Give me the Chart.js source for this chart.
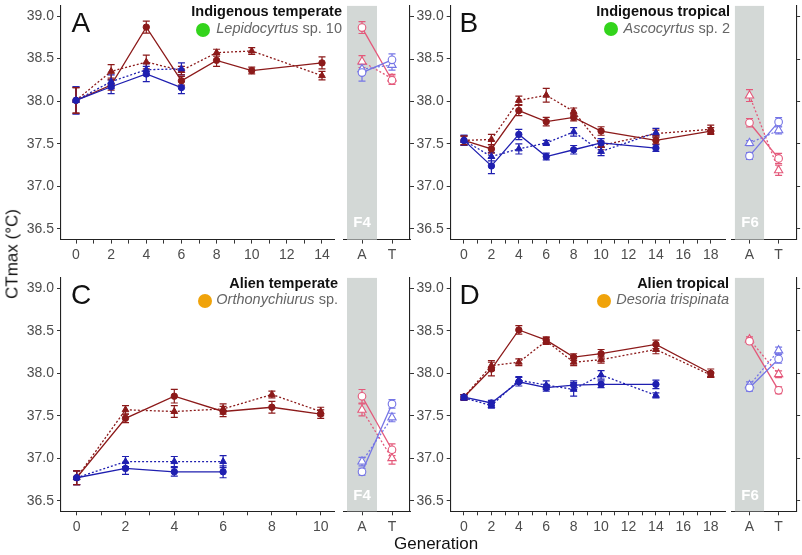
<!DOCTYPE html>
<html>
<head>
<meta charset="utf-8">
<script src="https://cdn.jsdelivr.net/npm/chart.js@4.4.0/dist/chart.umd.min.js"></script>
<style>
body{margin:0;background:#fff;}
#wrap{position:relative;width:802px;height:555px;overflow:hidden;font-family:"Liberation Sans",Arial,Helvetica,sans-serif;}
canvas{position:absolute;}
.t{position:absolute;white-space:nowrap;line-height:1;}
.big{font-size:28px;color:#111;}
.ttl{font-size:14.5px;font-weight:bold;color:#111;text-align:right;}
.sp{font-size:14.5px;color:#666;text-align:right;}
.dot{position:absolute;width:14px;height:14px;border-radius:50%;}
.band{font-size:15px;font-weight:bold;color:#fff;text-align:center;width:30px;}
</style>
</head>
<body>
<div id="wrap">
<canvas id="mainA"></canvas><canvas id="sideA"></canvas>
<canvas id="mainB"></canvas><canvas id="sideB"></canvas>
<canvas id="mainC"></canvas><canvas id="sideC"></canvas>
<canvas id="mainD"></canvas><canvas id="sideD"></canvas>

<div class="t big" style="left:71.5px;top:8.6px">A</div>
<div class="t big" style="left:459.5px;top:8.6px">B</div>
<div class="t big" style="left:71px;top:280.8px">C</div>
<div class="t big" style="left:459.5px;top:280.8px">D</div>

<div class="t ttl" style="right:460px;top:3.7px">Indigenous temperate</div>
<div class="t sp" style="right:460px;top:20.7px"><i>Lepidocyrtus</i> sp. 10</div>
<div class="dot" style="left:196px;top:22.5px;background:#33d41c"></div>

<div class="t ttl" style="right:72px;top:3.7px">Indigenous tropical</div>
<div class="t sp" style="right:72px;top:20.7px"><i>Ascocyrtus</i> sp. 2</div>
<div class="dot" style="left:603.7px;top:22.3px;background:#33d41c"></div>

<div class="t ttl" style="right:464px;top:275.7px">Alien temperate</div>
<div class="t sp" style="right:464px;top:292.2px"><i>Orthonychiurus</i> sp.</div>
<div class="dot" style="left:198px;top:294px;background:#f0a30a"></div>

<div class="t ttl" style="right:73px;top:275.7px">Alien tropical</div>
<div class="t sp" style="right:73px;top:292.2px"><i>Desoria trispinata</i></div>
<div class="dot" style="left:597px;top:294px;background:#f0a30a"></div>

<div class="t band" style="left:347px;top:214.3px">F4</div>
<div class="t band" style="left:735px;top:214.3px">F6</div>
<div class="t band" style="left:347px;top:487.3px">F4</div>
<div class="t band" style="left:735px;top:487.3px">F6</div>

<div class="t" style="left:12px;top:254px;font-size:17px;color:#111;transform:translate(-50%,-50%) rotate(-90deg)">CTmax (°C)</div>
<div class="t" style="left:394px;top:534.6px;font-size:17px;color:#111">Generation</div>
</div>

<script>
// axis ticks
const yTicks = [36.5, 37.0, 37.5, 38.0, 38.5, 39.0];
const sideX = [1, 2];
const sideLabels = ["A", "T"];
const ticksA = [0,1,2,3,4,5,6,7,8,9,10,11,12,13,14];
const ticksB = [0,1,2,3,4,5,6,7,8,9,10,11,12,13,14,15,16,17,18];
const ticksC = [0,1,2,3,4,5,6,7,8,9,10];
const labelsA = [0,2,4,6,8,10,12,14];
const labelsB = [0,2,4,6,8,10,12,14,16,18];
const labelsC = [0,2,4,6,8,10];

// Panel A - Indigenous temperate
const genA_red = [0, 2, 4, 6, 8, 10, 14];
const genA_blue = [0, 2, 4, 6];
const A_redCirc = [38.01, 38.19, 38.87, 38.24, 38.48, 38.36, 38.45];
const A_redCircErr = [0.15, 0.06, 0.07, 0.05, 0.07, 0.04, 0.07];
const A_redTri = [38.01, 38.35, 38.46, 38.36, 38.57, 38.59, 38.30];
const A_redTriErr = [0.15, 0.08, 0.08, 0.05, 0.04, 0.04, 0.05];
const A_blueCirc = [38.01, 38.17, 38.32, 38.16];
const A_blueCircErr = [0.16, 0.08, 0.09, 0.07];
const A_blueTri = [38.01, 38.23, 38.37, 38.38];
const A_blueTriErr = [0.16, 0.08, 0.07, 0.07];
const A_sidePinkCirc = [38.87, 38.25];
const A_sidePinkCircErr = [0.07, 0.05];
const A_sidePinkTri = [38.47, 38.27];
const A_sidePinkTriErr = [0.07, 0.05];
const A_sideBlueCirc = [38.34, 38.49];
const A_sideBlueCircErr = [0.10, 0.07];
const A_sideBlueTri = [38.38, 38.43];
const A_sideBlueTriErr = [0.06, 0.06];

// Panel B - Indigenous tropical
const genB_red = [0, 2, 4, 6, 8, 10, 14, 18];
const genB_blue = [0, 2, 4, 6, 8, 10, 14];
const B_redCirc = [37.54, 37.44, 37.89, 37.76, 37.81, 37.65, 37.54, 37.65];
const B_redCircErr = [0.05, 0.05, 0.06, 0.05, 0.04, 0.05, 0.04, 0.04];
const B_redTri = [37.54, 37.55, 38.01, 38.07, 37.88, 37.48, 37.62, 37.67];
const B_redTriErr = [0.05, 0.06, 0.05, 0.08, 0.04, 0.05, 0.04, 0.05];
const B_blueCirc = [37.54, 37.24, 37.61, 37.35, 37.43, 37.51, 37.45];
const B_blueCircErr = [0.06, 0.09, 0.06, 0.04, 0.05, 0.05, 0.04];
const B_blueTri = [37.54, 37.35, 37.44, 37.51, 37.64, 37.41, 37.63];
const B_blueTriErr = [0.06, 0.05, 0.06, 0.03, 0.05, 0.05, 0.05];
const B_sidePinkCirc = [37.75, 37.33];
const B_sidePinkCircErr = [0.05, 0.06];
const B_sidePinkTri = [38.07, 37.19];
const B_sidePinkTriErr = [0.07, 0.06];
const B_sideBlueCirc = [37.36, 37.76];
const B_sideBlueCircErr = [0.04, 0.05];
const B_sideBlueTri = [37.51, 37.66];
const B_sideBlueTriErr = [0.03, 0.04];

// Panel C - Alien temperate
const genC_red = [0, 2, 4, 6, 8, 10];
const genC_blue = [0, 2, 4, 6];
const C_redCirc = [36.77, 37.47, 37.73, 37.55, 37.60, 37.52];
const C_redCircErr = [0.08, 0.05, 0.08, 0.06, 0.07, 0.05];
const C_redTri = [36.77, 37.57, 37.55, 37.58, 37.75, 37.55];
const C_redTriErr = [0.08, 0.05, 0.07, 0.06, 0.04, 0.05];
const C_blueCirc = [36.77, 36.88, 36.84, 36.84];
const C_blueCircErr = [0.08, 0.07, 0.05, 0.07];
const C_blueTri = [36.77, 36.96, 36.96, 36.96];
const C_blueTriErr = [0.08, 0.06, 0.06, 0.07];
const C_sidePinkCirc = [37.73, 37.10];
const C_sidePinkCircErr = [0.08, 0.07];
const C_sidePinkTri = [37.57, 37.00];
const C_sidePinkTriErr = [0.07, 0.07];
const C_sideBlueCirc = [36.84, 37.64];
const C_sideBlueCircErr = [0.04, 0.05];
const C_sideBlueTri = [36.96, 37.48];
const C_sideBlueTriErr = [0.05, 0.05];

// Panel D - Alien tropical
const genD_red = [0, 2, 4, 6, 8, 10, 14, 18];
const genD_blue = [0, 2, 4, 6, 8, 10, 14];
const D_redCirc = [37.72, 38.05, 38.51, 38.39, 38.19, 38.23, 38.34, 38.00];
const D_redCircErr = [0.03, 0.08, 0.05, 0.04, 0.04, 0.05, 0.05, 0.05];
const D_redTri = [37.72, 38.09, 38.13, 38.38, 38.13, 38.16, 38.28, 37.98];
const D_redTriErr = [0.03, 0.06, 0.04, 0.04, 0.04, 0.04, 0.05, 0.03];
const D_blueCirc = [37.72, 37.65, 37.90, 37.83, 37.86, 37.87, 37.87];
const D_blueCircErr = [0.03, 0.03, 0.05, 0.04, 0.05, 0.04, 0.05];
const D_blueTri = [37.71, 37.62, 37.92, 37.86, 37.81, 37.98, 37.74];
const D_blueTriErr = [0.03, 0.03, 0.04, 0.05, 0.08, 0.05, 0.03];
const D_sidePinkCirc = [38.38, 37.80];
const D_sidePinkCircErr = [0.03, 0.04];
const D_sidePinkTri = [38.40, 37.99];
const D_sidePinkTriErr = [0.03, 0.04];
const D_sideBlueCirc = [37.83, 38.17];
const D_sideBlueCircErr = [0.04, 0.05];
const D_sideBlueTri = [37.86, 38.27];
const D_sideBlueTriErr = [0.04, 0.04];

const RED = "#8c1a1a", BLUE = "#1f1fb0", PINK = "#e4587a", LBLUE = "#7575e6";
const FONT = "'Liberation Sans', Arial, Helvetica, sans-serif";

// grey band + error bars, drawn under the points
const decor = {
    id: "decor",
    beforeDatasetsDraw(chart, args, opts) {
        const {ctx, chartArea: a, scales: {x, y}} = chart;
        ctx.save();
        if (opts.band) {
            const x0 = x.getPixelForValue(opts.band[0]);
            const x1 = x.getPixelForValue(opts.band[1]);
            ctx.fillStyle = "#d3d8d6";
            ctx.fillRect(x0, a.top, x1 - x0, a.bottom - a.top);
        }
        chart.data.datasets.forEach(ds => {
            if (!ds.err) return;
            ctx.strokeStyle = ds.borderColor;
            ctx.lineWidth = 1.2;
            ctx.setLineDash([]);
            ds.data.forEach((p, i) => {
                const e = ds.err[i];
                const px = x.getPixelForValue(p.x);
                const y0 = y.getPixelForValue(p.y - e);
                const y1 = y.getPixelForValue(p.y + e);
                ctx.beginPath();
                ctx.moveTo(px, y0); ctx.lineTo(px, y1);
                ctx.moveTo(px - 3.5, y0); ctx.lineTo(px + 3.5, y0);
                ctx.moveTo(px - 3.5, y1); ctx.lineTo(px + 3.5, y1);
                ctx.stroke();
            });
        });
        ctx.restore();
    }
};

function pts(xs, ys) {
    return xs.map((v, i) => ({x: v, y: ys[i]}));
}

function series(xs, ys, err, color, shape, dotted, open) {
    return {
        data: pts(xs, ys),
        err: err,
        borderColor: color,
        backgroundColor: color,
        borderWidth: 1.3,
        borderDash: dotted ? [2, 2] : [],
        pointStyle: shape,
        pointRadius: shape === "triangle" ? (open ? 4.8 : 3.9) : (open ? 3.8 : 3.2),
        pointBackgroundColor: open ? "#fff" : color,
        pointBorderColor: color,
        pointBorderWidth: open ? 1.1 : 1,
        fill: false,
        tension: 0
    };
}

function zeroPad(s) {
    s.paddingLeft = 0; s.paddingRight = 0; s.paddingTop = 0; s.paddingBottom = 0;
}

const tickFont = {family: FONT, size: 14};
const axisGrid = {drawOnChartArea: false, drawTicks: true, tickLength: 4, color: "#333", lineWidth: 1};
const axisBorder = {display: true, color: "#222", width: 1.1};

// cfg: canvas box, plot area box, x range
function panel(id, cfg, datasets) {
    const cv = document.getElementById(id);
    cv.width = cfg.w; cv.height = cfg.h;
    cv.style.left = cfg.left + "px"; cv.style.top = cfg.top + "px";
    cv.style.width = cfg.w + "px"; cv.style.height = cfg.h + "px";
    const xH = cfg.top + cfg.h - cfg.area.b;
    let pad, yAxis;
    if (!cfg.side) {
        pad = {left: 0, top: cfg.area.t - cfg.top, right: cfg.left + cfg.w - cfg.area.r, bottom: 0};
        yAxis = {
            type: "linear", position: "left", min: 36.375, max: 39.125,
            afterBuildTicks: s => { s.ticks = yTicks.map(v => ({value: v})); },
            ticks: {callback: v => v.toFixed(1), color: "#4d4d4d", font: tickFont, padding: 3},
            grid: axisGrid, border: axisBorder,
            afterFit: s => { s.width = cfg.area.l - cfg.left; zeroPad(s); }
        };
    } else {
        pad = {left: cfg.area.l - cfg.left, top: cfg.area.t - cfg.top, right: cfg.left + cfg.w - cfg.area.r - 4, bottom: 0};
        yAxis = {
            type: "linear", position: "right", min: 36.375, max: 39.125,
            afterBuildTicks: s => { s.ticks = yTicks.map(v => ({value: v})); },
            ticks: {callback: () => "", padding: 0},
            grid: axisGrid, border: axisBorder,
            afterFit: s => { s.width = 4; zeroPad(s); }
        };
    }
    new Chart(cv, {
        type: "line",
        data: {datasets: datasets},
        options: {
            responsive: false,
            animation: false,
            devicePixelRatio: 1,
            events: [],
            layout: {padding: pad},
            plugins: {legend: {display: false}, tooltip: {enabled: false}, decor: {band: cfg.band}},
            scales: {
                x: {
                    type: "linear", min: cfg.xMin, max: cfg.xMax,
                    afterBuildTicks: s => { s.ticks = cfg.xTicks.map(v => ({value: v})); },
                    ticks: {
                        callback: cfg.xLabel, color: "#4d4d4d", font: tickFont,
                        padding: 3, maxRotation: 0, autoSkip: false
                    },
                    grid: axisGrid, border: axisBorder,
                    afterFit: s => { s.height = xH; zeroPad(s); }
                },
                y: yAxis
            }
        },
        plugins: [decor]
    });
}

function mainSets(gr, gb, rc, rce, rt, rte, bc, bce, bt, bte) {
    return [
        series(gb, bc, bce, BLUE, "circle", false, false),
        series(gb, bt, bte, BLUE, "triangle", true, false),
        series(gr, rc, rce, RED, "circle", false, false),
        series(gr, rt, rte, RED, "triangle", true, false)
    ];
}

function sideSets(pc, pce, pt, pte, bc, bce, bt, bte) {
    return [
        series(sideX, bc, bce, LBLUE, "circle", false, true),
        series(sideX, bt, bte, LBLUE, "triangle", true, true),
        series(sideX, pc, pce, PINK, "circle", false, true),
        series(sideX, pt, pte, PINK, "triangle", true, true)
    ];
}

const evenLabel = labels => v => labels.includes(v) ? String(v) : "";
const sideLabel = v => sideLabels[sideX.indexOf(v)] || "";

const topArea = {t: 5.4, b: 239.6};
const botArea = {t: 277.7, b: 511.3};

panel("mainA", {left: 0, top: 0, w: 350, h: 272, area: {l: 61, r: 334, ...topArea},
    xMin: -0.854, xMax: 14.683, xTicks: ticksA, xLabel: evenLabel(labelsA)},
    mainSets(genA_red, genA_blue, A_redCirc, A_redCircErr, A_redTri, A_redTriErr,
             A_blueCirc, A_blueCircErr, A_blueTri, A_blueTriErr));
panel("sideA", {side: true, left: 336, top: 0, w: 80, h: 272, area: {l: 344, r: 410, ...topArea},
    xMin: 0.4, xMax: 2.6, xTicks: sideX, xLabel: sideLabel, band: [0.5, 1.5]},
    sideSets(A_sidePinkCirc, A_sidePinkCircErr, A_sidePinkTri, A_sidePinkTriErr,
             A_sideBlueCirc, A_sideBlueCircErr, A_sideBlueTri, A_sideBlueTriErr));

panel("mainB", {left: 400, top: 0, w: 340, h: 272, area: {l: 450.7, r: 725, ...topArea},
    xMin: -0.97, xMax: 19.04, xTicks: ticksB, xLabel: evenLabel(labelsB)},
    mainSets(genB_red, genB_blue, B_redCirc, B_redCircErr, B_redTri, B_redTriErr,
             B_blueCirc, B_blueCircErr, B_blueTri, B_blueTriErr));
panel("sideB", {side: true, left: 724, top: 0, w: 78, h: 272, area: {l: 732, r: 798, ...topArea},
    xMin: 0.4, xMax: 2.6, xTicks: sideX, xLabel: sideLabel, band: [0.5, 1.5]},
    sideSets(B_sidePinkCirc, B_sidePinkCircErr, B_sidePinkTri, B_sidePinkTriErr,
             B_sideBlueCirc, B_sideBlueCircErr, B_sideBlueTri, B_sideBlueTriErr));

panel("mainC", {left: 0, top: 272, w: 350, h: 283, area: {l: 61, r: 334, ...botArea},
    xMin: -0.643, xMax: 10.545, xTicks: ticksC, xLabel: evenLabel(labelsC)},
    mainSets(genC_red, genC_blue, C_redCirc, C_redCircErr, C_redTri, C_redTriErr,
             C_blueCirc, C_blueCircErr, C_blueTri, C_blueTriErr));
panel("sideC", {side: true, left: 336, top: 272, w: 80, h: 283, area: {l: 344, r: 410, ...botArea},
    xMin: 0.4, xMax: 2.6, xTicks: sideX, xLabel: sideLabel, band: [0.5, 1.5]},
    sideSets(C_sidePinkCirc, C_sidePinkCircErr, C_sidePinkTri, C_sidePinkTriErr,
             C_sideBlueCirc, C_sideBlueCircErr, C_sideBlueTri, C_sideBlueTriErr));

panel("mainD", {left: 400, top: 272, w: 340, h: 283, area: {l: 450.7, r: 725, ...botArea},
    xMin: -0.97, xMax: 19.04, xTicks: ticksB, xLabel: evenLabel(labelsB)},
    mainSets(genD_red, genD_blue, D_redCirc, D_redCircErr, D_redTri, D_redTriErr,
             D_blueCirc, D_blueCircErr, D_blueTri, D_blueTriErr));
panel("sideD", {side: true, left: 724, top: 272, w: 78, h: 283, area: {l: 732, r: 798, ...botArea},
    xMin: 0.4, xMax: 2.6, xTicks: sideX, xLabel: sideLabel, band: [0.5, 1.5]},
    sideSets(D_sidePinkCirc, D_sidePinkCircErr, D_sidePinkTri, D_sidePinkTriErr,
             D_sideBlueCirc, D_sideBlueCircErr, D_sideBlueTri, D_sideBlueTriErr));
</script>
</body>
</html>
